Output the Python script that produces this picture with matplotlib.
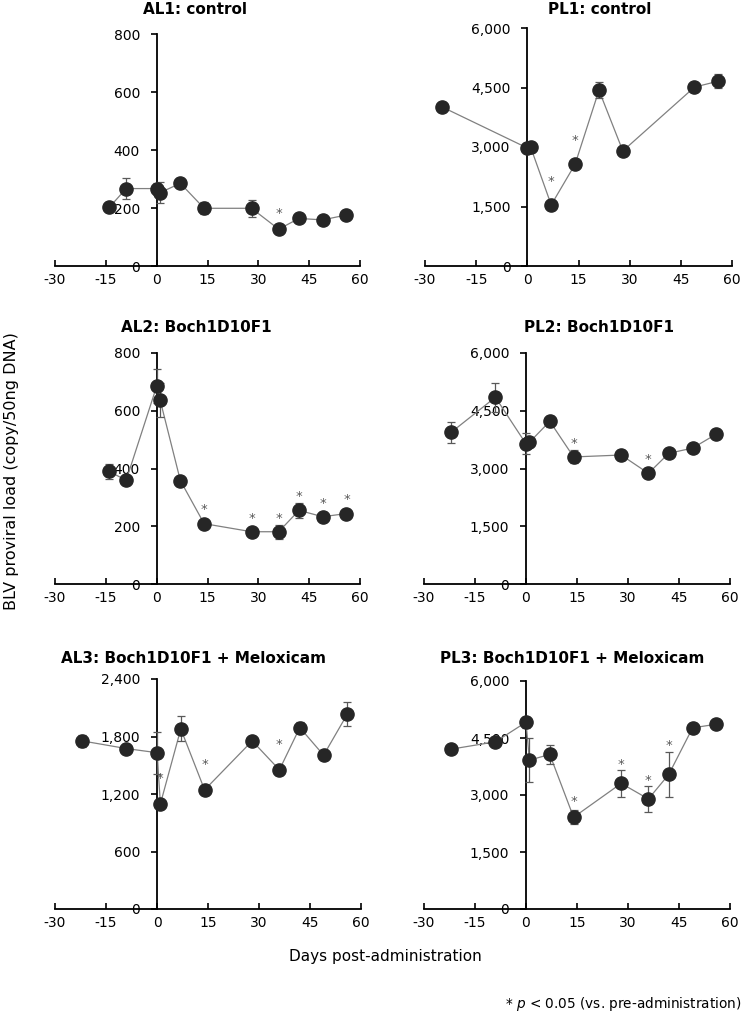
import numpy as np
import matplotlib
matplotlib.use('Agg')
import matplotlib.pyplot as plt
from matplotlib.ticker import FuncFormatter

plt.rcParams['font.family'] = 'DejaVu Sans'
plt.rcParams['axes.unicode_minus'] = False

# data (days post-administration, mean, error)
al1_days = [-14, -9, 0, 1, 7, 14, 28, 36, 42, 49, 56]
al1_vals = [202, 267, 267, 253, 285, 199, 199, 127, 164, 159, 176]
al1_err = [8, 35, 20, 35, 10, 20, 30, 8, 8, 8, 8]
al1_sig = [36]

pl1_days = [-25, 0, 1, 7, 14, 21, 28, 49, 56]
pl1_vals = [4010, 2975, 2990, 1540, 2565, 4430, 2900, 4510, 4660]
pl1_err = [50, 60, 60, 60, 60, 200, 110, 90, 180]
pl1_sig = [7, 14]

al2_days = [-14, -9, 0, 1, 7, 14, 28, 36, 42, 49, 56]
al2_vals = [390, 359, 685, 638, 358, 209, 181, 181, 255, 233, 244]
al2_err = [25, 10, 58, 58, 10, 12, 10, 25, 25, 15, 8]
al2_sig = [14, 28, 36, 42, 49, 56]

pl2_days = [-22, -9, 0, 1, 7, 14, 28, 36, 42, 49, 56]
pl2_vals = [3940, 4850, 3640, 3680, 4225, 3300, 3350, 2875, 3395, 3530, 3895]
pl2_err = [280, 370, 270, 50, 150, 170, 130, 40, 40, 40, 40]
pl2_sig = [14, 36]

al3_days = [-22, -9, 0, 1, 7, 14, 28, 36, 42, 49, 56]
al3_vals = [1754, 1674, 1631, 1097, 1879, 1243, 1754, 1452, 1893, 1605, 2035]
al3_err = [60, 50, 220, 20, 130, 40, 40, 50, 60, 20, 130]
al3_sig = [1, 14, 36]

pl3_days = [-22, -9, 0, 1, 7, 14, 28, 36, 42, 49, 56]
pl3_vals = [4207, 4399, 4915, 3918, 4067, 2414, 3306, 2895, 3542, 4767, 4863]
pl3_err = [40, 120, 150, 580, 250, 180, 350, 330, 600, 130, 40]
pl3_sig = [14, 28, 36, 42]

W, H = 743, 1011
fig = plt.figure(figsize=(W / 100, H / 100), dpi=100)

def box(l, r, t, b):
    return [l / W, 1 - b / H, (r - l) / W, (b - t) / H]

# title, data, y max, y step, axes box, title position, min star lift (px)
panels = [
    ('AL1: control', al1_days, al1_vals, al1_err, al1_sig, 800, 200, box(55, 360, 34, 266), (195, 14), 20),
    ('PL1: control', pl1_days, pl1_vals, pl1_err, pl1_sig, 6000, 1500, box(425, 732, 28, 266), (600, 14), 28),
    ('AL2: Boch1D10F1', al2_days, al2_vals, al2_err, al2_sig, 800, 200, box(55, 360, 353, 584), (196, 332), 18),
    ('PL2: Boch1D10F1', pl2_days, pl2_vals, pl2_err, pl2_sig, 6000, 1500, box(424, 730, 353, 584), (599, 332), 18),
    ('AL3: Boch1D10F1 + Meloxicam', al3_days, al3_vals, al3_err, al3_sig, 2400, 600, box(55, 361, 679, 909), (193, 663), 30),
    ('PL3: Boch1D10F1 + Meloxicam', pl3_days, pl3_vals, pl3_err, pl3_sig, 6000, 1500, box(424, 730, 681, 909), (572, 663), 20),
]

mark_col = '#262626'
line_col = '#808080'
err_col = '#595959'

for title, days, vals, err, sig, ymax, ystep, pos, tpos, lift in panels:
    ax = fig.add_axes(pos)
    ax.set_xlim(-30, 60)
    ax.set_ylim(0, ymax)
    ax.plot(days, vals, '-', color=line_col, lw=0.9, zorder=2, clip_on=False)
    ax.errorbar(days, vals, yerr=err, fmt='none', ecolor=err_col, elinewidth=0.9,
                capsize=3.2, capthick=0.9, zorder=3, clip_on=False)
    ax.plot(days, vals, 'o', color=mark_col, ms=9.5, zorder=4, clip_on=False)

    # significance stars above points
    px_per_unit = ax.bbox.height / ymax
    for d in sig:
        i = days.index(d)
        off_px = max(lift, err[i] * px_per_unit + 10)
        ax.annotate('*', (d, vals[i]), xytext=(0, (off_px - 7.8) * 0.72), textcoords='offset points',
                    ha='center', va='baseline', fontsize=9.5, color='#595959', zorder=5)

    ax.spines['left'].set_position(('data', 0))
    ax.spines['top'].set_visible(False)
    ax.spines['right'].set_visible(False)
    for s in ('left', 'bottom'):
        ax.spines[s].set_linewidth(1.3)
        ax.spines[s].set_zorder(1)
    ax.set_xticks(np.arange(-30, 61, 15))
    ax.set_yticks(np.arange(0, ymax + 1, ystep))
    if ymax >= 1000:
        ax.yaxis.set_major_formatter(FuncFormatter(lambda v, p: f'{int(v):,}'))
    ax.tick_params(axis='x', direction='in', length=4, width=1.2, pad=5, labelsize=10)
    ax.tick_params(axis='y', direction='out', length=4, width=1.2, pad=8, labelsize=10)
    ax.patch.set_visible(False)

    fig.text(tpos[0] / W, 1 - tpos[1] / H, title, ha='center', va='baseline',
             fontsize=11, fontweight='bold')

fig.text(12 / W, 1 - 471 / H, 'BLV proviral load (copy/50ng DNA)', rotation=90,
         ha='center', va='center', fontsize=11.5)
fig.text(385 / W, 1 - 957 / H, 'Days post-administration', ha='center', va='center', fontsize=11)
fig.text(741 / W, 1 - 1008 / H, '* $\\it{p}$ < 0.05 (vs. pre-administration)', ha='right',
         va='baseline', fontsize=9.8)

fig.savefig('out.png', dpi=100)
